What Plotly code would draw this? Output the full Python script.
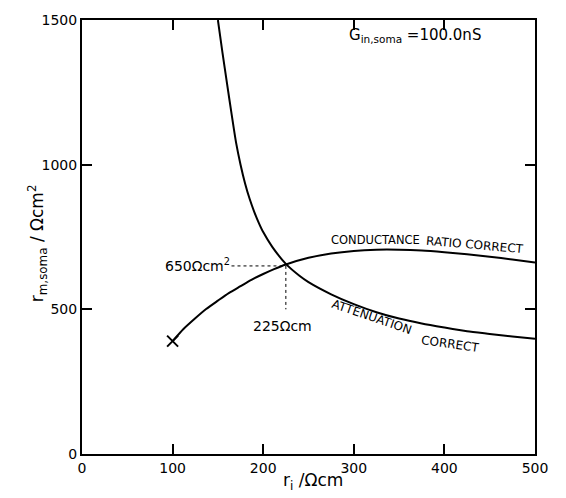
import plotly.graph_objects as go

# Conductance ratio correct curve
cond_x = [100, 112, 125, 137, 150, 162, 175, 187, 200, 212, 225, 250, 275, 300, 325, 350, 375, 400, 425, 450, 475, 500]
cond_y = [390, 432, 469, 501, 530, 556, 580, 602, 622, 639, 655, 678, 693, 702, 706, 706, 703, 697, 690, 682, 672, 662]

# Attenuation correct curve
att_x = [150, 155, 160, 165, 170, 175, 180, 185, 190, 195, 200, 210, 225, 240, 250, 275, 300, 325, 350, 375, 400, 425, 450, 475, 500]
att_y = [1500, 1388, 1282, 1177, 1077, 1000, 935, 882, 838, 800, 767, 716, 657, 616, 594, 552, 518, 490, 468, 451, 437, 424, 415, 406, 398]

# Start point marker
start_x = [100]
start_y = [390]

# Intersection guides
guide_h_x = [165, 225]
guide_h_y = [650, 650]
guide_v_x = [225, 225]
guide_v_y = [650, 500]

x_ticks = [0, 100, 200, 300, 400, 500]
y_ticks = [0, 500, 1000, 1500]

FONT = "DejaVu Sans"

fig = go.Figure()
fig.add_trace(go.Scatter(x=guide_h_x, y=guide_h_y, mode="lines",
                         line=dict(color="black", width=1, dash="dot"), showlegend=False))
fig.add_trace(go.Scatter(x=guide_v_x, y=guide_v_y, mode="lines",
                         line=dict(color="black", width=1, dash="dot"), showlegend=False))
fig.add_trace(go.Scatter(x=cond_x, y=cond_y, mode="lines",
                         line=dict(color="black", width=2, shape="spline", smoothing=0.6),
                         showlegend=False))
fig.add_trace(go.Scatter(x=att_x, y=att_y, mode="lines",
                         line=dict(color="black", width=2, shape="spline", smoothing=0.6),
                         showlegend=False))
fig.add_trace(go.Scatter(x=start_x, y=start_y, mode="markers",
                         marker=dict(symbol="x-thin", size=11, color="black",
                                     line=dict(color="black", width=2)),
                         showlegend=False))

axis_common = dict(showgrid=False, zeroline=False, showline=True, linecolor="black",
                   linewidth=2, mirror="ticks", ticks="inside", ticklen=10,
                   tickwidth=1.5, tickcolor="black",
                   tickfont=dict(family=FONT, size=14, color="black"))

fig.update_xaxes(range=[0, 500], tickvals=x_ticks, **axis_common)
fig.update_yaxes(range=[0, 1500], tickvals=y_ticks, **axis_common)

ann = []
def add(text, x, y, size=11, angle=0, xanchor="center", xref="x", yref="y"):
    ann.append(dict(text=text, x=x, y=y, xref=xref, yref=yref, showarrow=False,
                    textangle=angle, xanchor=xanchor, yanchor="middle",
                    font=dict(family=FONT, size=size, color="black")))

add("G<sub>in,soma</sub> =100.0nS", 293, 1445, size=15, xanchor="left")
add("650Ωcm<sup>2</sup>", 166, 653, size=14, xanchor="right")
add("225Ωcm", 221, 442, size=14)
add("CONDUCTANCE", 324, 738, size=11.5, angle=0)
add("RATIO CORRECT", 434, 722, size=12, angle=5)
add("ATTENUATION", 320, 474, size=12, angle=19)
add("CORRECT", 406, 380, size=12, angle=8)
add("r<sub>i</sub> /Ωcm", 0.51, -0.064, size=17, xref="paper", yref="paper")
add("r<sub>m,soma</sub> / Ωcm<sup>2</sup>", -0.099, 0.486, size=17, angle=-90,
    xref="paper", yref="paper")

fig.update_layout(
    width=566, height=498,
    margin=dict(l=82, r=31, t=14, b=44),
    paper_bgcolor="white", plot_bgcolor="white",
    annotations=ann,
    font=dict(family=FONT, color="black"),
)

fig.write_html("out.html")
